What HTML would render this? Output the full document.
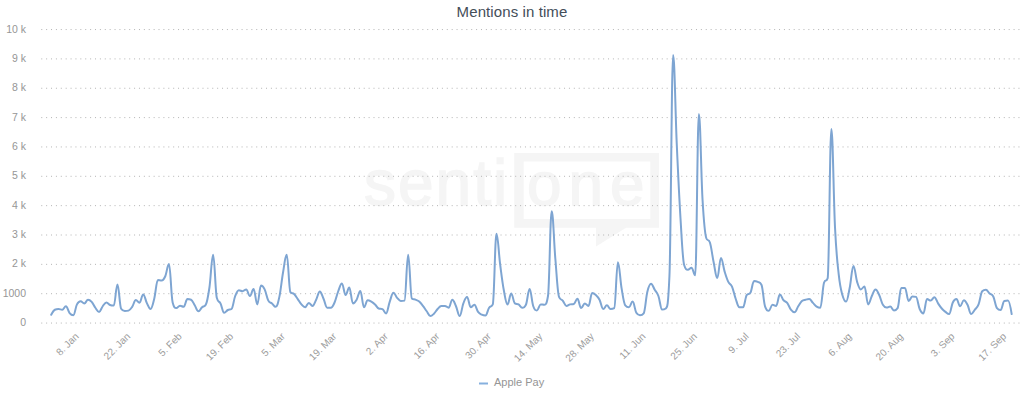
<!DOCTYPE html>
<html><head><meta charset="utf-8">
<style>
html,body{margin:0;padding:0;background:#fff;width:1024px;height:400px;overflow:hidden}
svg{display:block}
text{font-family:"Liberation Sans",sans-serif}
</style></head><body>
<svg width="1024" height="400" viewBox="0 0 1024 400">
<rect x="0" y="0" width="1024" height="400" fill="#ffffff"/>
<g fill="#f5f5f5">
<text x="364" y="204.5" font-size="64" letter-spacing="2" stroke="#f5f5f5" stroke-width="1.5" style="font-family:'Liberation Sans',sans-serif">senti</text>
<text x="527" y="204.5" font-size="62" letter-spacing="7" stroke="#f5f5f5" stroke-width="1.5" style="font-family:'Liberation Sans',sans-serif">one</text>
<path fill-rule="evenodd" d="M514.2 153 H659 V227.7 H626 L596 246.5 V227.7 H514.2 Z M523.7 161.6 V219.1 H650.3 V161.6 Z"/>
</g>
<g stroke="#b4b4b4" stroke-width="1" stroke-dasharray="1,3.886" fill="none">
<path d="M 41.25 323.05 L 1019.8 323.05" /><path d="M 41.25 293.70 L 1019.8 293.70" /><path d="M 41.25 264.35 L 1019.8 264.35" /><path d="M 41.25 235.00 L 1019.8 235.00" /><path d="M 41.25 205.65 L 1019.8 205.65" /><path d="M 41.25 176.30 L 1019.8 176.30" /><path d="M 41.25 146.95 L 1019.8 146.95" /><path d="M 41.25 117.60 L 1019.8 117.60" /><path d="M 41.25 88.25 L 1019.8 88.25" /><path d="M 41.25 58.90 L 1019.8 58.90" /><path d="M 41.25 29.55 L 1019.8 29.55" />
</g>
<g fill="#969696" font-size="10.5" text-anchor="end">
<text x="26" y="326.15">0</text><text x="26" y="296.80">1000</text><text x="26" y="267.45">2 k</text><text x="26" y="238.10">3 k</text><text x="26" y="208.75">4 k</text><text x="26" y="179.40">5 k</text><text x="26" y="150.05">6 k</text><text x="26" y="120.70">7 k</text><text x="26" y="91.35">8 k</text><text x="26" y="62.00">9 k</text><text x="26" y="32.65">10 k</text>
</g>
<g fill="#9c9c9c" font-size="10" text-anchor="end">
<text transform="translate(79.46,337.00) rotate(-45)" x="0" y="0">8. Jan</text><text transform="translate(130.98,337.00) rotate(-45)" x="0" y="0">22. Jan</text><text transform="translate(182.50,337.00) rotate(-45)" x="0" y="0">5. Feb</text><text transform="translate(234.02,337.00) rotate(-45)" x="0" y="0">19. Feb</text><text transform="translate(285.54,337.00) rotate(-45)" x="0" y="0">5. Mar</text><text transform="translate(337.06,337.00) rotate(-45)" x="0" y="0">19. Mar</text><text transform="translate(388.58,337.00) rotate(-45)" x="0" y="0">2. Apr</text><text transform="translate(440.10,337.00) rotate(-45)" x="0" y="0">16. Apr</text><text transform="translate(491.62,337.00) rotate(-45)" x="0" y="0">30. Apr</text><text transform="translate(543.14,337.00) rotate(-45)" x="0" y="0">14. May</text><text transform="translate(594.66,337.00) rotate(-45)" x="0" y="0">28. May</text><text transform="translate(646.18,337.00) rotate(-45)" x="0" y="0">11. Jun</text><text transform="translate(697.70,337.00) rotate(-45)" x="0" y="0">25. Jun</text><text transform="translate(749.22,337.00) rotate(-45)" x="0" y="0">9. Jul</text><text transform="translate(800.74,337.00) rotate(-45)" x="0" y="0">23. Jul</text><text transform="translate(852.26,337.00) rotate(-45)" x="0" y="0">6. Aug</text><text transform="translate(903.78,337.00) rotate(-45)" x="0" y="0">20. Aug</text><text transform="translate(955.30,337.00) rotate(-45)" x="0" y="0">3. Sep</text><text transform="translate(1006.82,337.00) rotate(-45)" x="0" y="0">17. Sep</text>
</g>
<path d="M 51.20 314.75 C 51.20 314.75 53.41 310.50 54.88 309.75 C 56.35 309.00 57.09 309.00 58.56 309.00 C 60.03 309.00 60.77 309.75 62.24 309.75 C 63.71 309.75 64.45 306.25 65.92 306.25 C 67.39 306.25 68.13 311.30 69.60 313.10 C 71.07 314.90 71.81 315.25 73.28 315.25 C 74.75 315.25 75.49 307.20 76.96 304.40 C 78.43 301.60 79.17 301.25 80.64 301.25 C 82.11 301.25 82.85 303.50 84.32 303.50 C 85.79 303.50 86.53 299.75 88.00 299.75 C 89.47 299.75 90.21 300.30 91.68 301.90 C 93.15 303.50 93.89 305.75 95.36 307.75 C 96.83 309.75 97.57 311.90 99.04 311.90 C 100.51 311.90 101.25 308.13 102.72 306.25 C 104.19 304.37 104.93 302.50 106.40 302.50 C 107.87 302.50 108.61 304.40 110.08 305.00 C 111.55 305.60 112.29 305.60 113.76 305.60 C 115.23 305.60 115.97 284.40 117.44 284.40 C 118.91 284.40 119.65 306.50 121.12 308.75 C 122.59 311.00 123.33 311.00 124.80 311.00 C 126.27 311.00 127.01 311.00 128.48 310.60 C 129.95 310.20 130.69 309.02 132.16 306.90 C 133.63 304.78 134.37 300.00 135.84 300.00 C 137.31 300.00 138.05 302.75 139.52 302.75 C 140.99 302.75 141.73 294.40 143.20 294.40 C 144.67 294.40 145.41 300.18 146.88 303.10 C 148.35 306.02 149.09 309.00 150.56 309.00 C 152.03 309.00 152.77 304.55 154.24 298.75 C 155.71 292.95 156.45 280.00 157.92 280.00 C 159.39 280.00 160.13 280.50 161.60 280.50 C 163.07 280.50 163.81 279.54 165.28 276.25 C 166.75 272.96 167.49 264.06 168.96 264.06 C 170.43 264.06 171.17 296.90 172.64 302.50 C 174.11 308.10 174.85 308.10 176.32 308.10 C 177.79 308.10 178.53 305.70 180.00 305.70 C 181.47 305.70 182.21 306.80 183.68 306.80 C 185.15 306.80 185.89 299.10 187.36 299.10 C 188.83 299.10 189.57 299.10 191.04 299.70 C 192.51 300.30 193.25 302.98 194.72 305.30 C 196.19 307.62 196.93 311.30 198.40 311.30 C 199.87 311.30 200.61 308.51 202.08 307.20 C 203.55 305.89 204.29 307.20 205.76 304.75 C 207.23 302.30 207.97 297.51 209.44 287.50 C 210.91 277.49 211.65 254.70 213.12 254.70 C 214.59 254.70 215.33 292.20 216.80 297.80 C 218.27 303.40 219.01 300.40 220.48 303.40 C 221.95 306.40 222.69 312.80 224.16 312.80 C 225.63 312.80 226.37 310.76 227.84 310.00 C 229.31 309.24 230.05 310.00 231.52 309.00 C 232.99 308.00 233.73 299.74 235.20 296.00 C 236.67 292.26 237.41 290.30 238.88 290.30 C 240.35 290.30 241.09 291.25 242.56 291.25 C 244.03 291.25 244.77 289.40 246.24 289.40 C 247.71 289.40 248.45 296.00 249.92 296.00 C 251.39 296.00 252.13 289.00 253.60 289.00 C 255.07 289.00 255.81 304.40 257.28 304.40 C 258.75 304.40 259.49 285.60 260.96 285.60 C 262.43 285.60 263.17 286.40 264.64 289.40 C 266.11 292.40 266.85 297.80 268.32 300.60 C 269.79 303.40 270.53 302.16 272.00 303.40 C 273.47 304.64 274.21 306.80 275.68 306.80 C 277.15 306.80 277.89 303.76 279.36 296.90 C 280.83 290.04 281.57 280.94 283.04 272.50 C 284.51 264.06 285.25 254.70 286.72 254.70 C 288.19 254.70 288.93 290.30 290.40 292.20 C 291.87 294.10 292.61 292.72 294.08 294.10 C 295.55 295.48 296.29 297.04 297.76 299.10 C 299.23 301.16 299.97 302.78 301.44 304.40 C 302.91 306.02 303.65 307.20 305.12 307.20 C 306.59 307.20 307.33 302.90 308.80 302.90 C 310.27 302.90 311.01 305.90 312.48 305.90 C 313.95 305.90 314.69 302.56 316.16 299.70 C 317.63 296.84 318.37 291.60 319.84 291.60 C 321.31 291.60 322.05 295.52 323.52 298.75 C 324.99 301.98 325.73 307.75 327.20 307.75 C 328.67 307.75 329.41 307.75 330.88 307.75 C 332.35 307.75 333.09 305.80 334.56 302.50 C 336.03 299.20 336.77 295.07 338.24 291.25 C 339.71 287.43 340.45 283.40 341.92 283.40 C 343.39 283.40 344.13 295.00 345.60 295.00 C 347.07 295.00 347.81 287.50 349.28 287.50 C 350.75 287.50 351.49 303.40 352.96 303.40 C 354.43 303.40 355.17 302.20 356.64 299.70 C 358.11 297.20 358.85 290.90 360.32 290.90 C 361.79 290.90 362.53 307.20 364.00 307.20 C 365.47 307.20 366.21 300.25 367.68 300.25 C 369.15 300.25 369.89 300.77 371.36 301.60 C 372.83 302.43 373.57 303.02 375.04 304.40 C 376.51 305.78 377.25 307.90 378.72 308.50 C 380.19 309.10 380.93 308.50 382.40 309.10 C 383.87 309.70 384.61 313.40 386.08 313.40 C 387.55 313.40 388.29 305.73 389.76 301.60 C 391.23 297.47 391.97 292.75 393.44 292.75 C 394.91 292.75 395.65 296.15 397.12 297.80 C 398.59 299.45 399.33 301.00 400.80 301.00 C 402.27 301.00 403.01 301.00 404.48 300.60 C 405.95 300.20 406.69 254.70 408.16 254.70 C 409.63 254.70 410.37 297.10 411.84 298.40 C 413.31 299.70 414.05 299.06 415.52 299.70 C 416.99 300.34 417.73 300.36 419.20 301.60 C 420.67 302.84 421.41 304.02 422.88 305.90 C 424.35 307.78 425.09 308.98 426.56 311.00 C 428.03 313.02 428.77 316.00 430.24 316.00 C 431.71 316.00 432.45 315.15 433.92 313.75 C 435.39 312.35 436.13 310.57 437.60 309.00 C 439.07 307.43 439.81 305.90 441.28 305.90 C 442.75 305.90 443.49 305.90 444.96 305.90 C 446.43 305.90 447.17 307.75 448.64 307.75 C 450.11 307.75 450.85 299.70 452.32 299.70 C 453.79 299.70 454.53 302.99 456.00 306.25 C 457.47 309.51 458.21 316.00 459.68 316.00 C 461.15 316.00 461.89 307.22 463.36 303.40 C 464.83 299.58 465.57 296.90 467.04 296.90 C 468.51 296.90 469.25 307.20 470.72 307.20 C 472.19 307.20 472.93 304.75 474.40 304.75 C 475.87 304.75 476.61 309.91 478.08 311.90 C 479.55 313.89 480.29 313.96 481.76 314.70 C 483.23 315.44 483.97 315.60 485.44 315.60 C 486.91 315.60 487.65 309.99 489.12 307.75 C 490.59 305.51 491.33 307.75 492.80 304.40 C 494.27 301.05 495.01 233.75 496.48 233.75 C 497.95 233.75 498.69 253.19 500.16 264.50 C 501.63 275.81 502.37 282.32 503.84 290.30 C 505.31 298.28 506.05 304.40 507.52 304.40 C 508.99 304.40 509.73 293.50 511.20 293.50 C 512.67 293.50 513.41 302.40 514.88 303.40 C 516.35 304.40 517.09 303.53 518.56 304.40 C 520.03 305.27 520.77 307.75 522.24 307.75 C 523.71 307.75 524.45 307.75 525.92 304.75 C 527.39 301.75 528.13 289.00 529.60 289.00 C 531.07 289.00 531.81 302.10 533.28 306.25 C 534.75 310.40 535.49 310.40 536.96 310.40 C 538.43 310.40 539.17 304.40 540.64 304.40 C 542.11 304.40 542.85 304.75 544.32 304.75 C 545.79 304.75 546.53 304.75 548.00 296.00 C 549.47 287.25 550.21 211.25 551.68 211.25 C 553.15 211.25 553.89 241.87 555.36 259.00 C 556.83 276.13 557.57 293.20 559.04 296.90 C 560.51 300.60 561.25 298.80 562.72 300.60 C 564.19 302.40 564.93 305.90 566.40 305.90 C 567.87 305.90 568.61 304.78 570.08 304.40 C 571.55 304.02 572.29 304.40 573.76 304.00 C 575.23 303.60 575.97 298.75 577.44 298.75 C 578.91 298.75 579.65 308.10 581.12 308.10 C 582.59 308.10 583.33 303.40 584.80 303.40 C 586.27 303.40 587.01 305.90 588.48 305.90 C 589.95 305.90 590.69 293.10 592.16 293.10 C 593.63 293.10 594.37 293.68 595.84 295.00 C 597.31 296.32 598.05 296.90 599.52 299.70 C 600.99 302.50 601.73 309.00 603.20 309.00 C 604.67 309.00 605.41 305.30 606.88 305.30 C 608.35 305.30 609.09 309.00 610.56 309.00 C 612.03 309.00 612.77 309.00 614.24 308.10 C 615.71 307.20 616.45 262.20 617.92 262.20 C 619.39 262.20 620.13 279.78 621.60 288.40 C 623.07 297.02 623.81 303.40 625.28 305.30 C 626.75 307.20 627.49 307.20 628.96 307.20 C 630.43 307.20 631.17 301.60 632.64 301.60 C 634.11 301.60 634.85 310.35 636.32 312.80 C 637.79 315.25 638.53 315.25 640.00 315.25 C 641.47 315.25 642.21 315.25 643.68 313.30 C 645.15 311.35 645.89 297.61 647.36 291.70 C 648.83 285.79 649.57 283.75 651.04 283.75 C 652.51 283.75 653.25 287.30 654.72 289.75 C 656.19 292.20 656.93 292.03 658.40 296.00 C 659.87 299.97 660.61 309.60 662.08 309.60 C 663.55 309.60 664.29 309.60 665.76 308.50 C 667.23 307.40 667.97 308.50 669.44 276.00 C 670.91 243.50 671.65 55.00 673.12 55.00 C 674.59 55.00 675.33 112.40 676.80 145.00 C 678.27 177.60 679.01 194.00 680.48 218.00 C 681.95 242.00 682.69 260.30 684.16 265.00 C 685.63 269.70 686.37 269.70 687.84 269.70 C 689.31 269.70 690.05 267.70 691.52 267.70 C 692.99 267.70 693.73 275.30 695.20 275.30 C 696.67 275.30 697.41 114.00 698.88 114.00 C 700.35 114.00 701.09 175.20 702.56 200.00 C 704.03 224.80 704.77 233.50 706.24 238.00 C 707.71 242.50 708.45 238.00 709.92 242.50 C 711.39 247.00 712.13 254.90 713.60 262.00 C 715.07 269.10 715.81 278.00 717.28 278.00 C 718.75 278.00 719.49 257.90 720.96 257.90 C 722.43 257.90 723.17 266.80 724.64 271.60 C 726.11 276.40 726.85 278.90 728.32 281.90 C 729.79 284.90 730.53 283.23 732.00 286.60 C 733.47 289.97 734.21 294.63 735.68 298.75 C 737.15 302.87 737.89 307.20 739.36 307.20 C 740.83 307.20 741.57 307.20 743.04 307.20 C 744.51 307.20 745.25 297.25 746.72 295.00 C 748.19 292.75 748.93 295.00 750.40 292.75 C 751.87 290.50 752.61 281.00 754.08 281.00 C 755.55 281.00 756.29 281.16 757.76 281.90 C 759.23 282.64 759.97 281.90 761.44 284.70 C 762.91 287.50 763.65 302.70 765.12 306.70 C 766.59 310.70 767.33 310.70 768.80 310.70 C 770.27 310.70 771.01 304.75 772.48 304.75 C 773.95 304.75 774.69 305.90 776.16 305.90 C 777.63 305.90 778.37 294.60 779.84 294.60 C 781.31 294.60 782.05 298.59 783.52 300.25 C 784.99 301.91 785.73 301.03 787.20 302.90 C 788.67 304.77 789.41 307.73 790.88 309.60 C 792.35 311.47 793.09 312.25 794.56 312.25 C 796.03 312.25 796.77 308.50 798.24 306.25 C 799.71 304.00 800.45 302.30 801.92 301.00 C 803.39 299.70 804.13 300.08 805.60 299.70 C 807.07 299.32 807.81 299.10 809.28 299.10 C 810.75 299.10 811.49 301.40 812.96 302.90 C 814.43 304.40 815.17 305.63 816.64 306.60 C 818.11 307.57 818.85 307.75 820.32 307.75 C 821.79 307.75 822.53 287.50 824.00 282.80 C 825.47 278.10 826.21 282.80 827.68 278.10 C 829.15 273.40 829.89 129.00 831.36 129.00 C 832.83 129.00 833.57 198.92 835.04 228.00 C 836.51 257.08 837.25 261.00 838.72 274.40 C 840.19 287.80 840.93 289.56 842.40 295.00 C 843.87 300.44 844.61 301.60 846.08 301.60 C 847.55 301.60 848.29 294.64 849.76 287.50 C 851.23 280.36 851.97 265.90 853.44 265.90 C 854.91 265.90 855.65 277.20 857.12 281.90 C 858.59 286.60 859.33 289.40 860.80 289.40 C 862.27 289.40 863.01 286.60 864.48 286.60 C 865.95 286.60 866.69 304.40 868.16 304.40 C 869.63 304.40 870.37 299.00 871.84 296.00 C 873.31 293.00 874.05 289.40 875.52 289.40 C 876.99 289.40 877.73 291.92 879.20 295.00 C 880.67 298.08 881.41 302.28 882.88 304.80 C 884.35 307.32 885.09 307.60 886.56 307.60 C 888.03 307.60 888.77 306.60 890.24 306.60 C 891.71 306.60 892.45 310.40 893.92 310.40 C 895.39 310.40 896.13 310.40 897.60 308.10 C 899.07 305.80 899.81 287.90 901.28 287.90 C 902.75 287.90 903.49 287.90 904.96 287.90 C 906.43 287.90 907.17 301.00 908.64 301.00 C 910.11 301.00 910.85 296.50 912.32 296.50 C 913.79 296.50 914.53 296.50 916.00 296.90 C 917.47 297.30 918.21 305.70 919.68 309.00 C 921.15 312.30 921.89 313.40 923.36 313.40 C 924.83 313.40 925.57 299.10 927.04 299.10 C 928.51 299.10 929.25 300.60 930.72 300.60 C 932.19 300.60 932.93 297.25 934.40 297.25 C 935.87 297.25 936.61 301.15 938.08 303.40 C 939.55 305.65 940.29 306.80 941.76 308.50 C 943.23 310.20 943.97 310.78 945.44 311.90 C 946.91 313.02 947.65 314.10 949.12 314.10 C 950.59 314.10 951.33 305.50 952.80 302.50 C 954.27 299.50 955.01 299.10 956.48 299.10 C 957.95 299.10 958.69 306.25 960.16 306.25 C 961.63 306.25 962.37 300.25 963.84 300.25 C 965.31 300.25 966.05 301.98 967.52 304.75 C 968.99 307.52 969.73 314.10 971.20 314.10 C 972.67 314.10 973.41 311.54 974.88 309.60 C 976.35 307.66 977.09 308.07 978.56 304.40 C 980.03 300.73 980.77 292.75 982.24 291.25 C 983.71 289.75 984.45 289.75 985.92 289.75 C 987.39 289.75 988.13 292.15 989.60 293.50 C 991.07 294.85 991.81 293.58 993.28 296.50 C 994.75 299.42 995.49 306.20 996.96 308.10 C 998.43 310.00 999.17 310.00 1000.64 310.00 C 1002.11 310.00 1002.85 301.40 1004.32 301.00 C 1005.79 300.60 1006.53 300.60 1008.00 300.60 C 1009.47 300.60 1011.68 314.10 1011.68 314.10" fill="none" stroke="#7ea5d2" stroke-width="2" stroke-linejoin="round" stroke-linecap="round"/>
<text x="512" y="16.8" text-anchor="middle" font-size="15" letter-spacing="0.1" fill="#444e59">Mentions in time</text>
<path d="M 479 383.5 L 488 383.5" stroke="#86b0de" stroke-width="2"/>
<text x="494" y="386" font-size="11" fill="#959595">Apple Pay</text>
</svg>
</body></html>
